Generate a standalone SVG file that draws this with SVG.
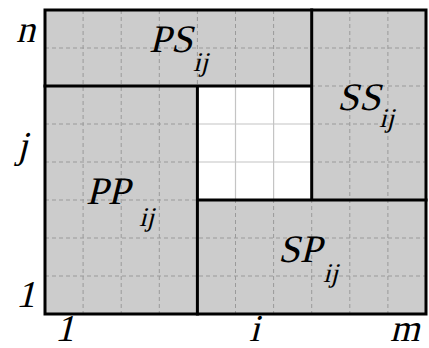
<svg xmlns="http://www.w3.org/2000/svg" width="429" height="348" viewBox="0 0 429 348">
<style>
.bg{fill:#cccccc}
.grid{stroke:#9a9a9a;stroke-width:1;stroke-dasharray:4 3;fill:none}
.wgrid{stroke:#c4c4c4;stroke-width:1.2;fill:none}
.thick{stroke:#000;stroke-width:3;fill:none;stroke-linecap:square}
text{font-family:'Liberation Serif','Times New Roman',serif;font-style:normal;fill:#000}
.big{font-size:39px}
.sub{font-size:27px}
.ax{font-size:38px}
</style>
<rect width="429" height="348" fill="#fff"/>
<g id="region-bg">
<rect class="bg" x="45" y="10" width="381" height="304"/>
</g>
<g id="grid">
<path class="grid" d="M83.1 10V314M121.2 10V314M159.3 10V314M197.4 10V314M235.5 10V314M273.6 10V314M311.7 10V314M349.8 10V314M387.9 10V314M45 48H426M45 86H426M45 124H426M45 162H426M45 200H426M45 238H426M45 276H426"/>
</g>
<g id="center">
<rect x="197.4" y="86" width="114.3" height="114" fill="#fff"/>
<path class="wgrid" d="M235.5 86V200M273.6 86V200M197.4 124H311.7M197.4 162H311.7"/>
</g>
<g id="PS">
<text class="big" transform="translate(149,52) skewX(-14)">PS</text>
<text class="sub" transform="translate(193,71) skewX(-14)">ij</text>
</g>
<g id="SS">
<text class="big" transform="translate(337,110) skewX(-14)">SS</text>
<text class="sub" transform="translate(379,127) skewX(-14)">ij</text>
</g>
<g id="PP">
<text class="big" transform="translate(86,204) skewX(-14)">PP</text>
<text class="sub" transform="translate(139,226) skewX(-14)">ij</text>
</g>
<g id="SP">
<text class="big" transform="translate(278,262) skewX(-14)">SP</text>
<text class="sub" transform="translate(323,282) skewX(-14)">ij</text>
</g>
<g id="connectors">
<rect class="thick" x="45" y="10" width="381" height="304"/>
<path class="thick" d="M45 86H311.7M311.7 10V200M197.4 200H426M197.4 86V314"/>
</g>
<g id="axis-labels">
<text class="ax" transform="translate(16,42) skewX(-14)">n</text>
<text class="ax" transform="translate(17,158) skewX(-14)">j</text>
<text class="ax" transform="translate(16,307) skewX(-14)">1</text>
<text class="ax" transform="translate(55,341) skewX(-14)">1</text>
<text class="ax" transform="translate(249,341) skewX(-14)">i</text>
<text class="ax" transform="translate(390,341) skewX(-14)">m</text>
</g>
</svg>
